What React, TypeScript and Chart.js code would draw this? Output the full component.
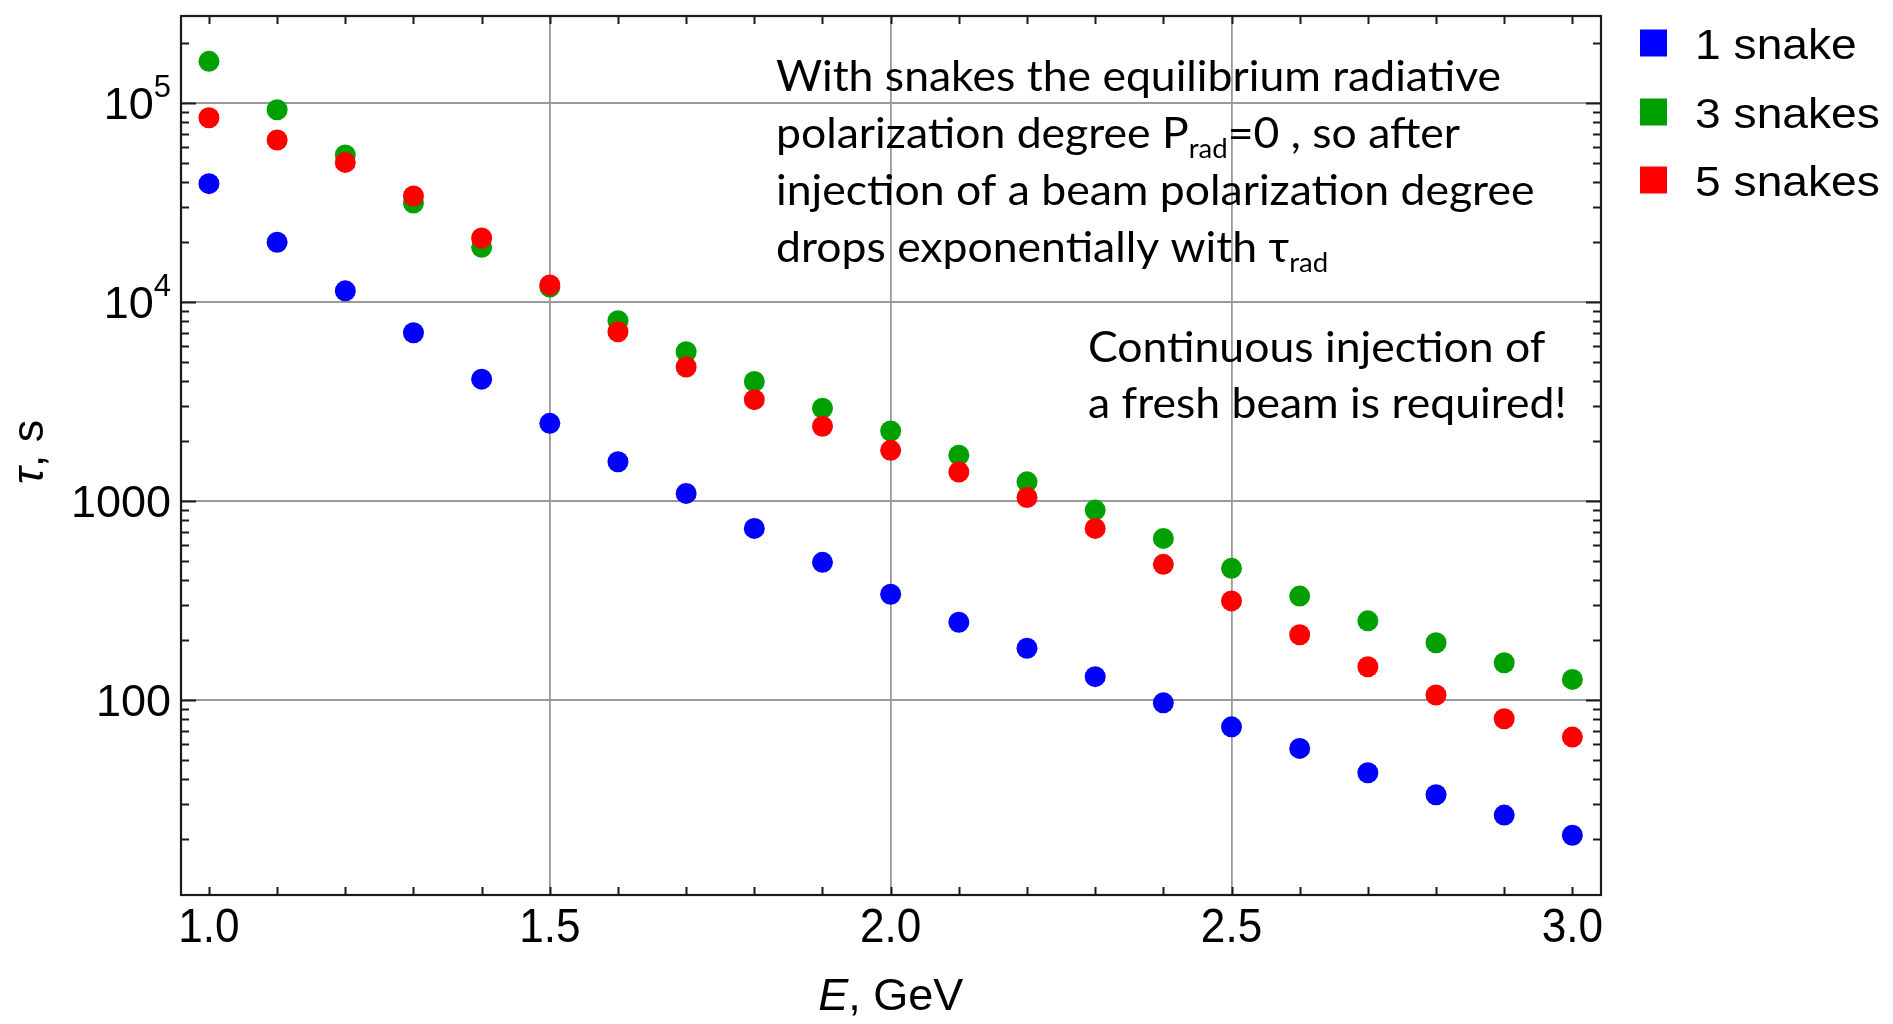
import React, { useEffect, useRef } from "react";
import { Chart, registerables } from "chart.js";

Chart.register(...registerables);

// ---- data ----
const energies = [1.0, 1.1, 1.2, 1.3, 1.4, 1.5, 1.6, 1.7, 1.8, 1.9, 2.0, 2.1, 2.2, 2.3, 2.4, 2.5, 2.6, 2.7, 2.8, 2.9, 3.0];
const oneSnake = [39400, 20000, 11400, 7020, 4100, 2460, 1576, 1093, 729, 492, 340, 246, 182, 131, 96.8, 73.3, 57.1, 43.1, 33.4, 26.4, 20.9];
const threeSnakes = [162400, 92700, 54900, 31500, 18860, 11910, 8065, 5630, 3990, 2930, 2250, 1700, 1250, 901, 649, 459, 333, 250, 194, 154, 127];
const fiveSnakes = [84500, 65300, 50400, 34150, 21000, 12190, 7100, 4720, 3236, 2377, 1800, 1400, 1043, 729, 481, 315, 213, 147, 106, 80.5, 65.1];

const seriesLabels = ["1 snake", "3 snakes", "5 snakes"];
const seriesColors = ["#0000ff", "#00a000", "#ff0000"];

const xLabelValues = [1.0, 1.5, 2.0, 2.5, 3.0];
const xTickLabels = ["1.0", "1.5", "2.0", "2.5", "3.0"];
const xGridValues = [1.5, 2.0, 2.5];
const yMajorValues = [100, 1000, 10000, 100000];
const yTickBase = ["100", "1000", "10", "10"];
const yTickExp = ["", "", "4", "5"];

const annotationLines = [
  [{ t: "With snakes the equilibrium radiative" }],
  [{ t: "polarization degree P" }, { t: "rad", sub: true }, { t: "=0 , so after" }],
  [{ t: "injection of a beam polarization degree" }],
  [{ t: "drops exponentially with \u03c4" }, { t: "rad", sub: true }],
];
const noteLines = [[{ t: "Continuous injection of" }], [{ t: "a fresh beam is required!" }]];

const W = 1893;
const H = 1024;

type Run = { text: string; font: string; dy?: number };

function drawRuns(ctx: CanvasRenderingContext2D, runs: Run[], x: number, y: number, align: string, scaleX: number) {
  const widths = runs.map((r) => {
    ctx.font = r.font;
    return ctx.measureText(r.text).width;
  });
  const total = widths.reduce((a, b) => a + b, 0) * scaleX;
  const sx = align === "right" ? x - total : align === "center" ? x - total / 2 : x;
  ctx.save();
  ctx.translate(sx, y);
  ctx.scale(scaleX, 1);
  ctx.textAlign = "left";
  ctx.textBaseline = "alphabetic";
  let cx = 0;
  runs.forEach((r, i) => {
    ctx.font = r.font;
    ctx.fillText(r.text, cx, r.dy || 0);
    cx += widths[i];
  });
  ctx.restore();
}

const AX = '"Liberation Sans", Arial, sans-serif';
const NOTE = 'Lato, "Open Sans", sans-serif';

const decorPlugin = {
  id: "decor",
  afterDraw(chart: any) {
    const ctx: CanvasRenderingContext2D = chart.ctx;
    const { left, right, top, bottom } = chart.chartArea;
    const xs = chart.scales.x;
    const ys = chart.scales.y;
    ctx.save();
    ctx.fillStyle = "#000";
    ctx.strokeStyle = "#1a1a1a";
    ctx.lineWidth = 2;

    // x ticks every 0.1, inward on bottom and top
    ctx.beginPath();
    for (let i = 0; i <= 20; i++) {
      const px = Math.round(xs.getPixelForValue(1 + i * 0.1)) + 0.5;
      ctx.moveTo(px, bottom);
      ctx.lineTo(px, bottom - 8);
      ctx.moveTo(px, top);
      ctx.lineTo(px, top + 8);
    }
    // y ticks: majors and minors, inward on left and right
    const decades = [10, 100, 1000, 10000, 100000];
    decades.forEach((d) => {
      for (let m = 1; m <= 9; m++) {
        const v = d * m;
        if (v < ys.min || v > ys.max) continue;
        const len = m === 1 ? 15 : 8;
        const py = Math.round(ys.getPixelForValue(v)) + 0.5;
        ctx.moveTo(left, py);
        ctx.lineTo(left + len, py);
        ctx.moveTo(right, py);
        ctx.lineTo(right - len, py);
      }
    });
    ctx.stroke();

    // frame
    ctx.lineWidth = 2.2;
    ctx.strokeRect(left, top, right - left, bottom - top);

    // y tick labels
    yMajorValues.forEach((v, i) => {
      const py = ys.getPixelForValue(v);
      const runs: Run[] = [{ text: yTickBase[i], font: `45px ${AX}` }];
      if (yTickExp[i]) runs.push({ text: yTickExp[i], font: `31px ${AX}`, dy: -22 });
      drawRuns(ctx, runs, left - 10, py + 16, "right", 1);
    });

    // x tick labels
    xLabelValues.forEach((v, i) => {
      const px = xs.getPixelForValue(v);
      drawRuns(ctx, [{ text: xTickLabels[i], font: `49px ${AX}` }], px, bottom + 47, "center", 0.9);
    });

    // x axis title
    drawRuns(
      ctx,
      [
        { text: "E", font: `italic 45px ${AX}` },
        { text: ", GeV", font: `45px ${AX}` },
      ],
      xs.getPixelForValue(2.0),
      1010,
      "center",
      1
    );

    // y axis title (rotated)
    ctx.save();
    ctx.translate(43, 452);
    ctx.rotate(-Math.PI / 2);
    drawRuns(
      ctx,
      [
        { text: "\u03c4", font: `italic 45px ${AX}` },
        { text: ", s", font: `45px ${AX}` },
      ],
      0,
      0,
      "center",
      1
    );
    ctx.restore();

    // legend
    const legendY = [43, 112, 180];
    seriesLabels.forEach((lab, i) => {
      ctx.fillStyle = seriesColors[i];
      ctx.fillRect(1640, legendY[i] - 13.5, 27, 27);
      ctx.fillStyle = "#000";
      drawRuns(ctx, [{ text: lab, font: `42px ${AX}` }], 1695, legendY[i] + 16, "left", 1.1);
    });

    // annotation text
    const noteSize = 42;
    ctx.font = `${noteSize}px ${NOTE}`;
    const natural = ctx.measureText(annotationLines[0][0].t).width;
    const noteScale = 725 / natural;
    const toRuns = (line: any[]): Run[] =>
      line.map((p) => ({
        text: p.t,
        font: p.sub ? `${Math.round(noteSize * 0.62)}px ${NOTE}` : `${noteSize}px ${NOTE}`,
        dy: p.sub ? 10 : 0,
      }));
    ctx.fillStyle = "#000";
    annotationLines.forEach((line, i) => {
      drawRuns(ctx, toRuns(line), 776, 91 + i * 57, "left", noteScale);
    });
    noteLines.forEach((line, i) => {
      drawRuns(ctx, toRuns(line), 1088, 362 + i * 56, "left", noteScale);
    });

    ctx.restore();
  },
};

export default function App() {
  const ref = useRef<HTMLCanvasElement | null>(null);

  useEffect(() => {
    document.body.style.margin = "0";
    const canvas = ref.current;
    if (!canvas) return;
    const mk = (vals: number[]) => energies.map((e, i) => ({ x: e, y: vals[i] }));
    const series = [oneSnake, threeSnakes, fiveSnakes];
    const orders = [3, 2, 1];
    const chart = new Chart(canvas, {
      type: "scatter",
      data: {
        datasets: series.map((vals, i) => ({
          label: seriesLabels[i],
          data: mk(vals),
          backgroundColor: seriesColors[i],
          borderWidth: 0,
          pointRadius: 10.5,
          pointHoverRadius: 10.5,
          order: orders[i],
        })),
      },
      options: {
        responsive: false,
        animation: false,
        devicePixelRatio: 1,
        events: [],
        layout: { padding: { top: 16, right: W - 1601, left: 0, bottom: 0 } },
        plugins: { legend: { display: false }, tooltip: { enabled: false } },
        scales: {
          x: {
            type: "linear",
            min: 0.959,
            max: 3.042,
            afterBuildTicks: (s: any) => {
              s.ticks = xGridValues.map((v) => ({ value: v }));
            },
            afterFit: (s: any) => {
              s.height = H - 895;
            },
            ticks: { display: false },
            grid: { color: "#9a9a9a", lineWidth: 1.8, drawTicks: false },
            border: { display: false },
          },
          y: {
            type: "logarithmic",
            min: 10.47,
            max: 274400,
            afterBuildTicks: (s: any) => {
              s.ticks = yMajorValues.map((v) => ({ value: v }));
            },
            afterFit: (s: any) => {
              s.width = 181;
            },
            ticks: { display: false },
            grid: { color: "#9a9a9a", lineWidth: 2, drawTicks: false },
            border: { display: false },
          },
        },
      },
      plugins: [decorPlugin],
    } as any);
    return () => chart.destroy();
  }, []);

  return (
    <div style={{ width: W, height: H, background: "#fff" }}>
      <canvas ref={ref} width={W} height={H} style={{ display: "block" }} />
    </div>
  );
}
